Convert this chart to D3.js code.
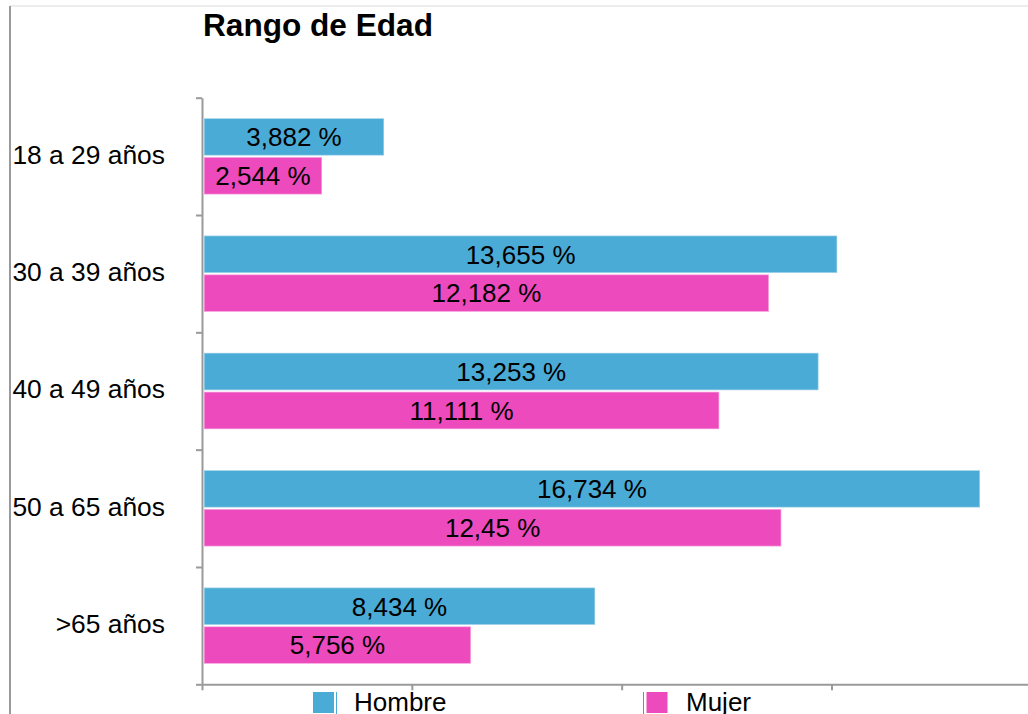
<!DOCTYPE html>
<html>
<head>
<meta charset="utf-8">
<script src="https://cdn.jsdelivr.net/npm/d3@7"></script>
<style>
  body { margin: 0; background: #fff; }
  svg { display: block; font-family: "Liberation Sans", Arial, sans-serif; }
  .axis path, .axis line { stroke: #9a9a9a; stroke-width: 2px; }
</style>
</head>
<body>
<div id="chart"></div>
<script>
// data
const categories = ["18 a 29 años", "30 a 39 años", "40 a 49 años", "50 a 65 años", ">65 años"];
const series = ["Hombre", "Mujer"];
const hombre = [3.882, 13.655, 13.253, 16.734, 8.434];
const mujer = [2.544, 12.182, 11.111, 12.45, 5.756];
const colors = ["#4aabd6", "#ed4abd"];
const xMax = 18.1;
const title = "Rango de Edad";

const width = 1028, height = 714;
const plotLeft = 202, plotTop = 97.7, plotBottom = 684.3;

const svg = d3.select("#chart")
    .append("svg")
        .attr("width", width)
        .attr("height", height);

// frame lines
svg.append("line")
    .attr("x1", 10).attr("x2", width)
    .attr("y1", 6).attr("y2", 6)
    .attr("stroke", "#ececec")
    .attr("stroke-width", 2);
svg.append("line")
    .attr("x1", 10).attr("x2", 10)
    .attr("y1", 6).attr("y2", height)
    .attr("stroke", "#9a9a9a")
    .attr("stroke-width", 2);

// title
svg.append("text")
    .attr("x", 203)
    .attr("y", 36)
    .style("font-size", "31.6px")
    .style("font-weight", "bold")
    .text(title);

const x = d3.scaleLinear()
    .domain([0, xMax])
    .range([plotLeft, plotLeft + xMax * 46.37]);

const y = d3.scaleBand()
    .domain(categories)
    .range([plotTop, plotBottom])
    .paddingInner(0.35)
    .paddingOuter(0.175);

const ySub = d3.scaleBand()
    .domain(series)
    .range([0, y.bandwidth()])
    .paddingInner(0.04);

// band edges for the left axis ticks
const yEdge = d3.scaleLinear()
    .domain([0, categories.length])
    .range([plotTop, plotBottom]);

const rows = categories.map((c, i) => ({cat: c, values: [hombre[i], mujer[i]]}));

// bars
const group = svg.append("g")
    .selectAll("g")
    .data(rows)
    .enter()
    .append("g")
        .attr("transform", d => `translate(0, ${y(d.cat)})`);

group.selectAll("rect")
    .data(d => d.values.map((v, j) => ({key: series[j], v: v, j: j})))
    .enter()
    .append("rect")
        .attr("x", x(0) + 2)
        .attr("y", d => ySub(d.key))
        .attr("width", d => x(d.v) - x(0))
        .attr("height", ySub.bandwidth())
        .attr("fill", d => colors[d.j])
        .attr("stroke", "#fff")
        .attr("stroke-opacity", 0.45)
        .attr("stroke-width", 1.5);

group.selectAll("text")
    .data(d => d.values.map((v, j) => ({key: series[j], v: v, j: j})))
    .enter()
    .append("text")
        .attr("x", d => x(0) + 2 + (x(d.v) - x(0)) / 2)
        .attr("y", d => ySub(d.key) + ySub.bandwidth() / 2)
        .attr("dy", "0.36em")
        .style("text-anchor", "middle")
        .style("font-size", "26px")
        .text(d => String(d.v).replace(".", ",") + " %");

// category labels
svg.append("g")
    .selectAll("text")
    .data(categories)
    .enter()
    .append("text")
        .attr("x", 165)
        .attr("y", d => y(d) + y.bandwidth() / 2)
        .attr("dy", "0.28em")
        .style("text-anchor", "end")
        .style("font-size", "26.4px")
        .text(d => d);

// axes
svg.append("g")
    .attr("class", "axis")
    .attr("transform", `translate(${plotLeft}, 0)`)
    .call(d3.axisLeft(yEdge)
        .tickValues(d3.range(categories.length + 1))
        .tickFormat("")
        .tickSize(6)
        .tickSizeOuter(0));

svg.append("g")
    .attr("class", "axis")
    .attr("transform", `translate(0, ${plotBottom})`)
    .call(d3.axisBottom(x)
        .tickValues(d3.range(0, 4).map(i => i * xMax / 4))
        .tickFormat("")
        .tickSize(6)
        .tickSizeOuter(0));

// legend
const legendX = [313, 643];
const legend = svg.append("g")
    .selectAll("g")
    .data(series)
    .enter()
    .append("g")
        .attr("transform", (d, i) => `translate(${legendX[i]}, 692)`);

legend.append("rect")
    .attr("x", (d, i) => i === 0 ? 0 : 3.5)
    .attr("width", 21)
    .attr("height", 21)
    .attr("fill", (d, i) => colors[i]);

legend.append("line")
    .attr("x1", (d, i) => i === 0 ? 23.5 : 0.5)
    .attr("x2", (d, i) => i === 0 ? 23.5 : 0.5)
    .attr("y1", 0)
    .attr("y2", 22)
    .attr("stroke", (d, i) => colors[i])
    .attr("stroke-width", 1);

legend.append("text")
    .attr("x", (d, i) => i === 0 ? 41 : 43)
    .attr("y", 19)
    .style("font-size", "26px")
    .text(d => d);
</script>
</body>
</html>
